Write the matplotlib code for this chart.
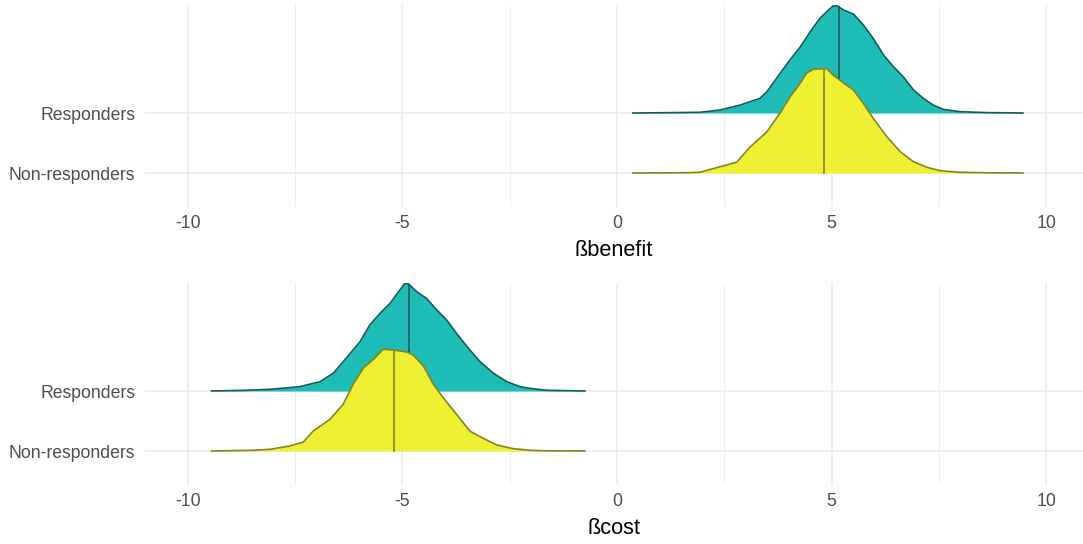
import numpy as np
import matplotlib.pyplot as plt

plt.rcParams['font.family'] = ['Liberation Sans', 'DejaVu Sans']

groups = ['Non-responders', 'Responders']

# beta benefit, estimated density curves
ben_resp_x = [0.37, 1.0, 1.5, 1.93, 2.40, 2.87, 3.33, 3.49, 3.72, 4.03, 4.27, 4.50, 4.73,
              4.93, 5.04, 5.14, 5.28, 5.51, 5.74, 5.97, 6.21, 6.44, 6.67, 6.91, 7.14, 7.37,
              7.61, 8.0, 8.6, 9.46]
ben_resp_d = [0.0, 0.001, 0.002, 0.003, 0.0125, 0.033, 0.061, 0.0875, 0.145, 0.221, 0.275,
              0.3375, 0.395, 0.429, 0.446, 0.446, 0.429, 0.4125, 0.367, 0.311, 0.242, 0.193,
              0.151, 0.096, 0.061, 0.033, 0.015, 0.0054, 0.0017, 0.0]
ben_non_x = [0.37, 1.0, 1.62, 1.93, 2.40, 2.79, 3.10, 3.49, 3.80, 4.03, 4.27, 4.42, 4.58,
             4.89, 5.04, 5.28, 5.51, 5.74, 5.97, 6.29, 6.60, 6.91, 7.22, 7.53, 8.0, 8.7, 9.46]
ben_non_d = [0.0, 0.0004, 0.0013, 0.003, 0.026, 0.045, 0.108, 0.171, 0.25, 0.317, 0.375,
             0.417, 0.433, 0.435, 0.408, 0.375, 0.346, 0.29, 0.228, 0.151, 0.089, 0.047,
             0.024, 0.0096, 0.003, 0.0008, 0.0]
ben_medians = [4.83, 5.18]   # non-responders, responders

# beta cost, estimated density curves
cost_resp_x = [-9.45, -8.63, -8.09, -7.39, -6.92, -6.61, -6.38, -5.99, -5.76, -5.52, -5.29,
               -5.06, -4.94, -4.86, -4.67, -4.44, -4.20, -3.97, -3.74, -3.43, -3.19, -2.88,
               -2.57, -2.26, -2.03, -1.64, -0.75]
cost_resp_d = [0.0, 0.003, 0.007, 0.018, 0.039, 0.074, 0.122, 0.205, 0.275, 0.324, 0.365,
               0.421, 0.449, 0.446, 0.414, 0.386, 0.3375, 0.296, 0.24, 0.171, 0.122, 0.074,
               0.039, 0.018, 0.011, 0.003, 0.0]
cost_non_x = [-9.45, -8.48, -8.09, -7.62, -7.31, -7.08, -6.69, -6.38, -6.15, -5.91, -5.68,
              -5.45, -5.21, -4.90, -4.75, -4.51, -4.28, -4.05, -3.74, -3.43, -3.12, -2.80,
              -2.42, -2.03, -1.64, -0.75]
cost_non_d = [0.0, 0.003, 0.007, 0.021, 0.0375, 0.083, 0.132, 0.195, 0.278, 0.347, 0.382,
              0.424, 0.421, 0.4125, 0.4, 0.354, 0.278, 0.222, 0.153, 0.083, 0.053, 0.025,
              0.0096, 0.003, 0.0008, 0.0]
cost_medians = [-5.2, -4.84]

xticks = [-10, -5, 0, 5, 10]
xminor = [-7.5, -2.5, 2.5, 7.5]

fills = ['#EFEF33', '#1EBDB8']
edges = ['#84841C', '#135A5A']
scale = 4.0

W, H = 1083, 544
fig = plt.figure(figsize=(W / 100, H / 100), dpi=100)


def ridge_panel(rect, curves, medians, xlabel):
    ax = fig.add_axes(rect)
    ax.set_xlim(-11.0, 10.86)
    ax.set_ylim(1 - 34 / 60, 2 + 108 / 60)
    for s in ax.spines.values():
        s.set_visible(False)
    ax.set_xticks(xticks)
    ax.set_xticks(xminor, minor=True)
    ax.set_xticklabels([str(t) for t in xticks])
    ax.set_yticks([1, 2])
    ax.set_yticklabels(groups)
    ax.tick_params(axis='both', which='both', length=0, labelsize=12.7, labelcolor='#4D4D4D')
    ax.tick_params(axis='x', pad=6)
    ax.tick_params(axis='y', pad=7)
    ax.grid(True, which='major', color='#EBEBEB', linewidth=1.1)
    ax.grid(True, which='minor', axis='x', color='#EBEBEB', linewidth=0.6)
    ax.set_axisbelow(True)
    # responders first, non-responders drawn over them
    for i in [1, 0]:
        x, d = curves[i]
        x = np.array(x)
        y = (i + 1) + scale * np.array(d)
        z = 3 if i == 1 else 5
        ax.fill_between(x, i + 1, y, color=fills[i], linewidth=0, zorder=z)
        ax.plot(x, y, color=edges[i], linewidth=1.2, zorder=z + 1, solid_joinstyle='round')
        hm = np.interp(medians[i], x, d)
        ax.plot([medians[i], medians[i]], [i + 1, i + 1 + scale * hm], color=edges[i],
                linewidth=1.2, zorder=z + 1)
    ax.set_xlabel(xlabel, fontsize=15.7, color='black', labelpad=5.8)
    return ax


ax1 = ridge_panel([145 / W, 1 - 207 / H, 1 - 145 / W, 202 / H],
                  [(ben_non_x, ben_non_d), (ben_resp_x, ben_resp_d)], ben_medians, 'ßbenefit')
ax2 = ridge_panel([145 / W, 1 - 485 / H, 1 - 145 / W, 202 / H],
                  [(cost_non_x, cost_non_d), (cost_resp_x, cost_resp_d)], cost_medians, 'ßcost')

plt.savefig('out.png', dpi=100)
